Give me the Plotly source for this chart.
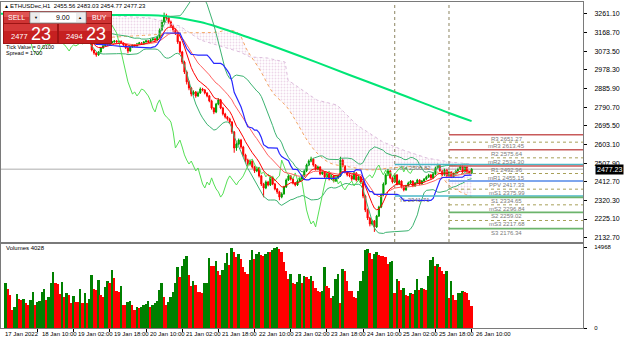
import plotly.graph_objects as go
import pandas as pd

# ---------------- data ----------------
closes = [3130,3135,3125,3140,3145,3135,3130,3140,3150,3145,
          3155,3150,3140,3145,3135,3140,3150,3160,3155,3165,
          3160,3150,3145,3155,3150,3140,3145,3135,3140,3130,
          3135,3125,3130,3120,3125,3135,3130,3120,3079,3064,
          3054,3069,3089,3100,3110,3105,3115,3120,3125,3120,
          3123,3115,3105,3090,3074,3095,3105,3100,3110,3115,
          3110,3120,3125,3120,3130,3135,3130,3145,3180,3221,
          3251,3241,3221,3200,3180,3165,3120,3069,3018,2968,
          2918,2887,2857,2867,2847,2862,2882,2877,2862,2847,
          2822,2786,2766,2806,2827,2786,2756,2741,2731,2715,
          2665,2584,2604,2624,2589,2549,2523,2503,2518,2488,
          2468,2483,2443,2402,2382,2412,2397,2433,2402,2377,
          2362,2336,2352,2387,2422,2443,2427,2407,2397,2417,
          2427,2443,2468,2498,2518,2528,2498,2478,2488,2453,
          2463,2438,2453,2427,2443,2417,2433,2443,2523,2493,
          2463,2448,2443,2427,2458,2422,2438,2412,2341,2271,
          2230,2200,2215,2185,2240,2286,2347,2402,2448,2468,
          2433,2412,2448,2402,2417,2387,2372,2392,2407,2417,
          2392,2407,2422,2402,2417,2427,2438,2448,2433,2453,
          2483,2498,2468,2448,2473,2443,2463,2438,2453,2468,
          2478,2493,2463,2488,2463,2455.56,2477.23]
highs = [3136,3141,3139,3146,3151,3149,3139,3145,3156,3154,
         3160,3159,3153,3150,3148,3144,3154,3166,3164,3170,
         3169,3163,3154,3159,3158,3153,3149,3148,3144,3143,
         3139,3138,3134,3133,3129,3140,3138,3133,3124,3083,
         3068,3073,3094,3105,3115,3114,3120,3125,3130,3129,
         3128,3127,3118,3108,3093,3100,3109,3109,3115,3120,
         3119,3125,3130,3129,3135,3142,3140,3152,3188,3232,
         3268,3262,3250,3228,3206,3188,3170,3125,3075,3025,
         2975,2925,2893,2875,2872,2870,2890,2888,2882,2866,
         2852,2828,2790,2812,2835,2832,2792,2762,2746,2737,
         2720,2670,2612,2632,2630,2595,2555,2530,2526,2523,
         2494,2490,2488,2448,2408,2420,2418,2440,2438,2408,
         2382,2368,2360,2393,2430,2450,2448,2432,2412,2423,
         2433,2450,2475,2505,2526,2540,2532,2503,2495,2492,
         2470,2468,2460,2458,2450,2448,2440,2450,2540,2530,
         2498,2468,2455,2448,2465,2462,2445,2442,2418,2348,
         2278,2236,2222,2220,2246,2292,2354,2410,2456,2478,
         2472,2438,2455,2452,2424,2420,2392,2398,2414,2422,
         2420,2412,2428,2426,2422,2432,2444,2454,2452,2460,
         2490,2505,2502,2472,2480,2477,2470,2466,2460,2474,
         2485,2500,2497,2495,2492,2468,2483.03]
lows = [3120,3126,3119,3122,3136,3130,3124,3126,3137,3140,
        3141,3146,3134,3137,3130,3131,3137,3147,3150,3152,
        3155,3145,3140,3142,3146,3135,3136,3130,3131,3125,
        3126,3120,3121,3115,3116,3122,3125,3114,3072,3055,
        3045,3050,3066,3085,3096,3100,3102,3111,3116,3115,
        3115,3112,3100,3084,3062,3070,3091,3095,3096,3106,
        3105,3106,3116,3115,3117,3126,3125,3127,3140,3175,
        3215,3232,3212,3192,3170,3155,3110,3060,3008,2958,
        2905,2876,2845,2850,2838,2842,2858,2870,2855,2840,
        2815,2778,2755,2760,2800,2780,2748,2733,2722,2706,
        2655,2560,2570,2598,2580,2540,2510,2490,2495,2480,
        2458,2462,2435,2392,2335,2376,2390,2392,2396,2370,
        2352,2320,2330,2348,2382,2418,2420,2400,2390,2392,
        2412,2422,2438,2462,2492,2512,2490,2470,2472,2446,
        2448,2430,2432,2420,2422,2410,2412,2428,2438,2486,
        2455,2440,2436,2418,2422,2415,2418,2405,2330,2260,
        2220,2188,2192,2160,2180,2235,2280,2340,2396,2442,
        2426,2405,2408,2395,2398,2380,2365,2368,2388,2402,
        2386,2388,2402,2396,2398,2412,2422,2433,2428,2430,
        2448,2478,2462,2442,2444,2438,2440,2432,2434,2448,
        2463,2473,2458,2460,2458,2450,2454.77]
first_open = 3125.0
volumes = [8270,7215,6100,3330,3950,6290,5300,5250,5300,4560,
           4250,5180,6600,4250,4870,4930,6720,7215,5180,5680,
           8270,10300,8270,8200,6230,8450,5680,6420,6100,4560,
           5920,4870,4800,7215,4560,6420,4560,5300,9800,7215,
           7000,8880,6100,5800,7650,8760,8270,10730,9300,6900,
           6720,7770,4250,4200,4870,4900,4250,3330,3950,3760,
           3950,4250,4380,4930,3950,4250,4560,4930,7000,8270,
           5800,4250,4870,5800,6720,8270,11340,9380,11470,12770,
           13320,9880,7720,8770,7900,6650,6600,6500,8390,8400,
           12890,11470,11400,12430,10600,9800,10730,12100,13940,11650,
           14800,14120,13200,13700,12770,11200,10400,9940,12580,14470,
           12770,13710,14030,13400,13300,13710,14030,14000,14340,14840,
           14968,14650,14030,12140,10570,9000,9940,8370,8050,8500,
           9940,8370,9620,9440,8990,9620,8680,7420,6790,6700,
           6790,11200,7740,7420,5540,6000,8990,10060,4590,10880,
           10570,8680,6790,6790,5660,5540,6790,8680,10570,14340,
           14650,13900,12770,13710,14030,13400,13350,13300,13080,11830,
           12140,12300,6480,8990,8680,7110,7420,6160,5850,6480,
           6300,7110,8990,7110,7420,7300,7110,9620,12580,13200,
           11500,11830,11200,10570,9940,10570,5540,8680,6160,5220,
           6480,6500,6790,6700,6480,5220,4028]

# long moving average (read as knots)
ma_long_bar = [-3, 46, 70, 86, 108, 130, 152, 172, 196, 206]
ma_long_price = [3262, 3256, 3251, 3221, 3140, 3049, 2953, 2867, 2761, 2720]

# Ichimoku cloud boundaries (read as knots)
span_a_bar = [41.6, 63.7, 77.0, 93.8, 97.8, 102.7, 106.7, 112.4, 118.2, 124.3, 128.8, 133.2,
              137.6, 143.4, 152.2, 161.1, 169.9, 181.8, 190.7, 196.4, 206.2]
span_a_price = [3140, 3155, 3165, 3170, 3180, 3165, 3079, 2978, 2862, 2791, 2710, 2624,
                2559, 2508, 2488, 2473, 2483, 2488, 2463, 2392, 2336]
span_b_bar = [41.6, 63.7, 77.0, 85.9, 103.6, 108.0, 115.5, 123.5, 124.8, 137.6, 146.5,
              155.3, 166.8, 175.6, 186.3, 196.4, 206.2]
span_b_price = [3256, 3241, 3200, 3130, 3069, 3044, 3039, 3018, 2927, 2826, 2801,
                2700, 2614, 2574, 2533, 2513, 2503]

price_ticks = [3261.10, 3168.70, 3073.50, 2978.30, 2885.90, 2790.70, 2695.50,
               2603.10, 2507.90, 2412.70, 2320.30, 2225.10, 2132.70]
vol_max_label = 14968
time_tick_bars = [14, 30, 46, 62, 78, 94, 110, 126, 142, 158, 174, 190, 206]
time_tick_labels = ["18 Jan 10:00", "19 Jan 02:00", "19 Jan 18:00", "20 Jan 10:00",
                    "21 Jan 02:00", "21 Jan 18:00", "22 Jan 10:00", "23 Jan 02:00",
                    "23 Jan 18:00", "24 Jan 10:00", "25 Jan 02:00", "25 Jan 18:00",
                    "26 Jan 10:00"]
first_time_label = "17 Jan 2022"

pivot_names = ["R3", "mR3", "R2", "mR2", "R1", "mR1", "PPV", "mS1", "S1", "mS2", "S2", "mS3", "S3"]
pivot_values = [2651.27, 2613.45, 2575.64, 2534.30, 2492.96, 2455.15, 2417.33,
                2375.99, 2334.65, 2296.84, 2259.02, 2217.68, 2176.34]
yest_high = 2500.82
yest_low = 2341.71
day_start_bars = [172, 196]
bid_price = 2477.23
ask_price = 2494.23
lot_size = "9.00"
symbol = "ETHUSDec,H1"
bar_ohlc = [2455.56, 2483.03, 2454.77, 2477.23]

# ---------------- derived indicators ----------------
n = len(closes)
bars = list(range(n))
opens = [first_open] + closes[:-1]
s = pd.Series(closes, dtype=float)
hi = pd.Series(highs, dtype=float)
lo = pd.Series(lows, dtype=float)
ema_fast = s.ewm(span=9, adjust=False).mean()
ema_slow = s.ewm(span=21, adjust=False).mean()
mid = s.rolling(20, min_periods=1).mean()
sd = s.rolling(20, min_periods=1).std(ddof=0).fillna(0)
bb_up, bb_dn = mid + 2 * sd, mid - 2 * sd
kijun = (hi.rolling(26, min_periods=1).max() + lo.rolling(26, min_periods=1).min()) / 2
chikou = s.shift(-26)
vol_colors = ["#008000" if i == 0 or volumes[i] > volumes[i - 1] else "#ff0000" for i in range(n)]

# ---------------- geometry ----------------
W, H = 624, 341
ML, MR, MT, MB = 1, 41, 2, 13
PW, PH = W - ML - MR, H - MT - MB
def px(x): return (x - ML) / PW
def py(y): return (H - MB - y) / PH
XMIN, XMAX = -2.145, 255.27
YMIN, YMAX = 2109.0, 3321.7
FONT = "Liberation Sans, Arial, sans-serif"

fig = go.Figure()
# Ichimoku cloud
fig.add_trace(go.Scatter(x=span_b_bar, y=span_b_price, mode="lines",
                         line=dict(color="#dcbcdc", width=1, dash="dot"),
                         hoverinfo="skip", showlegend=False))
fig.add_trace(go.Scatter(x=span_a_bar, y=span_a_price, mode="lines",
                         line=dict(color="#f4a460", width=1, dash="dot", shape="spline"),
                         fill="tonexty", fillcolor="rgba(255,255,255,0)",
                         fillpattern=dict(shape=".", fgcolor="#dcb0d4", size=3, solidity=0.3),
                         hoverinfo="skip", showlegend=False))
# long MA
fig.add_trace(go.Scatter(x=ma_long_bar, y=ma_long_price, mode="lines",
                         line=dict(color="#00e676", width=2, shape="spline"),
                         hoverinfo="skip", showlegend=False))
# Bollinger
for band in (bb_up, bb_dn):
    fig.add_trace(go.Scatter(x=bars, y=band, mode="lines", line=dict(color="#3cb371", width=1),
                             hoverinfo="skip", showlegend=False))
# chikou
fig.add_trace(go.Scatter(x=bars, y=chikou, mode="lines", line=dict(color="#55e055", width=1),
                         hoverinfo="skip", showlegend=False))
# MAs
fig.add_trace(go.Scatter(x=bars, y=ema_slow, mode="lines", line=dict(color="#ff6060", width=1),
                         hoverinfo="skip", showlegend=False))
fig.add_trace(go.Scatter(x=bars, y=ema_fast, mode="lines", line=dict(color="#ff0000", width=1),
                         hoverinfo="skip", showlegend=False))
fig.add_trace(go.Scatter(x=bars, y=kijun, mode="lines", line=dict(color="#2828ff", width=1.2),
                         hoverinfo="skip", showlegend=False))
# candles
fig.add_trace(go.Candlestick(x=bars, open=opens, high=highs, low=lows, close=closes,
                             increasing=dict(line=dict(color="#00a000", width=1), fillcolor="#00a000"),
                             decreasing=dict(line=dict(color="#ff0000", width=1), fillcolor="#ff0000"),
                             whiskerwidth=0, showlegend=False, hoverinfo="skip"))
# volumes
fig.add_trace(go.Bar(x=bars, y=volumes, marker=dict(color=vol_colors, line=dict(width=0)), width=0.85,
                     xaxis="x2", yaxis="y2", showlegend=False, hoverinfo="skip"))

shapes = []
annotations = []
# current price line
shapes.append(dict(type="line", xref="x", yref="y", x0=XMIN, x1=XMAX, y0=bid_price, y1=bid_price,
                   line=dict(color="#c8c8c8", width=1.5), layer="below"))
# day separators
for b in day_start_bars:
    shapes.append(dict(type="line", xref="x", yref="y", x0=b, x1=b, y0=YMIN, y1=YMAX,
                       line=dict(color="#8c8460", width=1, dash="dot")))
# yesterday high / low
for val, name in ((yest_high, "YH"), (yest_low, "YL")):
    shapes.append(dict(type="line", xref="x", yref="y", x0=day_start_bars[0], x1=XMAX, y0=val, y1=val,
                       line=dict(color="#4ab8c8", width=1.5)))
    annotations.append(dict(x=day_start_bars[0] + 0.8, y=val, xref="x", yref="y", text=f"{name} {val:.2f}",
                            showarrow=False, xanchor="left", yanchor="middle", yshift=-4,
                            font=dict(size=6, color="#707070", family=FONT)))
# pivots
for name, val in zip(pivot_names, pivot_values):
    if name.startswith("m"):
        ln = dict(color="#a8a058", width=1, dash="dot")
    elif name.startswith("R"):
        ln = dict(color="#c85a5a", width=1.5)
    elif name.startswith("S"):
        ln = dict(color="#6cb46c", width=1.8)
    else:
        ln = dict(color="#7ea6ee", width=2)
    shapes.append(dict(type="line", xref="x", yref="y", x0=day_start_bars[1], x1=XMAX, y0=val, y1=val, line=ln))
    annotations.append(dict(x=221.6, y=val, xref="x", yref="y", text=f"{name} {val:.2f}", showarrow=False,
                            xanchor="center", yanchor="middle", yshift=-4,
                            font=dict(size=6, color="#7a7a7a", family=FONT)))
# current price label on the axis
annotations.append(dict(x=px(595), y=bid_price, xref="paper", yref="y", text=f"{bid_price:.2f}", showarrow=False,
                        xanchor="left", yanchor="middle", bgcolor="#000000", borderpad=1,
                        font=dict(size=7, color="#ffffff", family=FONT)))
# time labels
annotations.append(dict(x=px(3), y=py(334), xref="paper", yref="paper", text=first_time_label, showarrow=False,
                        xanchor="left", yanchor="middle", font=dict(size=6, color="#000000", family=FONT)))
for b, t in zip(time_tick_bars, time_tick_labels):
    annotations.append(dict(x=b, y=py(334), xref="x2", yref="paper", text=t, showarrow=False,
                            xanchor="left", yanchor="middle", xshift=2,
                            font=dict(size=6, color="#000000", family=FONT)))
# title & volume label
annotations.append(dict(x=px(2), y=py(6), xref="paper", yref="paper", text="▲", showarrow=False,
                        xanchor="left", yanchor="middle", font=dict(size=5, color="#000000", family=FONT)))
annotations.append(dict(x=px(8), y=py(6), xref="paper", yref="paper",
                        text=f"{symbol}  " + " ".join(f"{v:.2f}" for v in bar_ohlc), showarrow=False,
                        xanchor="left", yanchor="middle", font=dict(size=6, color="#000000", family=FONT)))
annotations.append(dict(x=px(4), y=py(248), xref="paper", yref="paper", text=f"Volumes {volumes[-1]}",
                        showarrow=False, xanchor="left", yanchor="middle",
                        font=dict(size=6, color="#000000", family=FONT)))
annotations.append(dict(x=px(4), y=py(47), xref="paper", yref="paper", text="Tick Value = 0.0100",
                        showarrow=False, xanchor="left", yanchor="middle",
                        font=dict(size=5.5, color="#000000", family=FONT)))
annotations.append(dict(x=px(4), y=py(53), xref="paper", yref="paper", text="Spread = 1700",
                        showarrow=False, xanchor="left", yanchor="middle",
                        font=dict(size=5.5, color="#000000", family=FONT)))

# one-click trading widget
def rect(x0, y0, x1, y1, fill, line=None):
    shapes.append(dict(type="rect", xref="paper", yref="paper", x0=px(x0), x1=px(x1), y0=py(y1), y1=py(y0),
                       fillcolor=fill, line=dict(color=line or fill, width=1 if line else 0), layer="above"))
rect(3, 11, 112, 44, "#9e1414")
for x0, x1 in ((4, 29), (87, 111)):
    rect(x0, 12, x1, 23, "#cf3434")
    rect(x0, 12, x1, 17, "#e05454")
rect(30, 12, 86, 23, "#ffffff", "#9a9a9a")
rect(31, 13, 40, 22, "#ececec")
rect(76, 13, 85, 22, "#ececec")
for x0, x1 in ((4, 57), (59, 111)):
    rect(x0, 24, x1, 43, "#c62020")
    rect(x0, 24, x1, 31, "#d43838")

def label(x, y, text, size, color, anchor="center"):
    annotations.append(dict(x=px(x), y=py(y), xref="paper", yref="paper", text=text,
                            showarrow=False, xanchor=anchor, yanchor="middle",
                            font=dict(size=size, color=color, family=FONT)))
label(16.5, 17.5, "SELL", 7, "#ffffff")
label(99, 17.5, "BUY", 7, "#ffffff")
label(35.5, 17.5, "▼", 4, "#000000")
label(80.5, 17.5, "▲", 4, "#000000")
label(72, 17.5, lot_size, 7, "#000000", anchor="right")
bid_str, ask_str = f"{bid_price:.2f}", f"{ask_price:.2f}"
label(19, 36.5, bid_str[:4], 7.5, "#ffffff")
label(41, 33.5, bid_str[-2:], 18, "#ffffff")
label(74, 36.5, ask_str[:4], 7.5, "#ffffff")
label(96, 33.5, ask_str[-2:], 18, "#ffffff")

axis_common = dict(showgrid=False, zeroline=False, showline=True, mirror=True, linecolor="#7a7a7a", linewidth=1)
fig.update_layout(
    width=W, height=H, margin=dict(l=ML, r=MR, t=MT, b=MB, autoexpand=False),
    paper_bgcolor="#ffffff", plot_bgcolor="#ffffff", showlegend=False,
    shapes=shapes, annotations=annotations, bargap=0,
    xaxis=dict(domain=[0, 1], range=[XMIN, XMAX], anchor="y", showticklabels=False, ticks="",
               rangeslider=dict(visible=False), **axis_common),
    xaxis2=dict(domain=[0, 1], range=[XMIN, XMAX], anchor="y2", matches="x", showticklabels=False,
                ticks="outside", ticklen=3, tickcolor="#000000", tickvals=time_tick_bars, **axis_common),
    yaxis=dict(domain=[(H - MB - 242) / PH, 1], range=[YMIN, YMAX], side="right", anchor="x",
               tickvals=price_ticks, ticktext=[f"{v:.2f}" for v in price_ticks], ticks="outside", ticklen=3,
               tickcolor="#000000", ticklabelstandoff=6, tickfont=dict(size=7, color="#000000", family=FONT),
               **axis_common),
    yaxis2=dict(domain=[0, (H - MB - 244) / PH], range=[0, 15523], side="right", anchor="x2",
                tickvals=[0, vol_max_label], ticktext=["0", str(vol_max_label)], ticks="outside", ticklen=3,
                tickcolor="#000000", ticklabelstandoff=6, tickfont=dict(size=6, color="#000000", family=FONT),
                **axis_common),
)
fig.write_html("out.html")
